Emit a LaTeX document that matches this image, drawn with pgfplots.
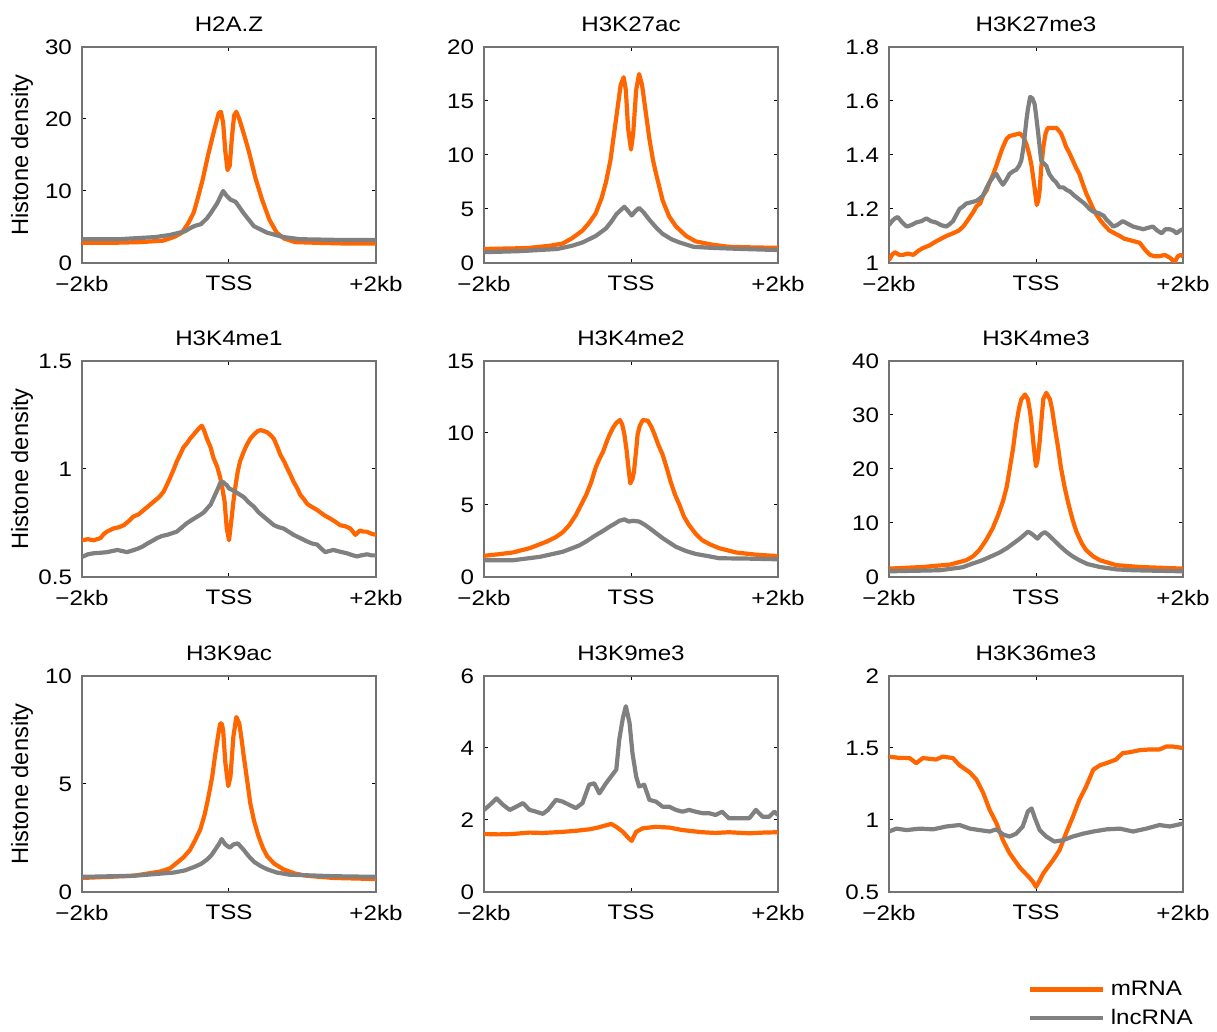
\documentclass[border=0pt]{standalone}
\usepackage{fontspec}
\setmainfont{Liberation Sans}[FakeStretch=1.15]
\newfontfamily\ylfont{Liberation Sans}
\usepackage{pgfplots}
\pgfplotsset{compat=1.18}

\definecolor{mrna}{RGB}{255,102,0}
\definecolor{lnc}{RGB}{128,128,128}
\definecolor{frame}{RGB}{115,115,115}

\pgfplotsset{
  hist/.style={
    scale only axis, width=147pt, height=108pt,
    xmin=-2, xmax=2,
    xtick={-2,0,2}, xticklabels={−2kb,TSS,+2kb},
    tick align=inside, tick pos=both,
    major tick length=2pt,
    axis line style={frame, line width=0.6pt},
    tick style={black, line width=0.5pt},
    tick label style={font=\fontsize{10.5}{12}\selectfont},
    /pgf/number format/assume math mode=true,
    yticklabel style={xshift=-1.5pt},
    xticklabel style={yshift=-3pt},
    title style={font=\fontsize{10.5}{12}\selectfont, at={(axis description cs:0.5,1)}, anchor=base, yshift=1.8pt},
    ylabel style={font=\ylfont\fontsize{11.8}{13}\selectfont, at={(axis description cs:-0.204,0.5)}, anchor=center},
    every axis plot/.append style={line width=2.1pt, line join=round},
  }
}

\begin{document}
\begin{tikzpicture}
\path[use as bounding box] (0pt,0pt) rectangle (608.5pt,516pt);

% row 1
\begin{axis}[hist, at={(41pt,384.5pt)}, ymin=0, ymax=30, ytick={0,10,20,30},
  title={H2A.Z}, ylabel={Histone density}]
\addplot[mrna] coordinates {(-2,2.8)(-1.6,2.8)(-1.2,2.9)(-0.9,3.1)(-0.75,3.6)(-0.64,4.2)(-0.55,5.6)(-0.48,7.0)(-0.43,8.8)(-0.36,11.5)(-0.28,15.2)(-0.2,18.5)(-0.14,20.8)(-0.11,21.0)(-0.08,19.5)(-0.05,15.5)(-0.02,12.9)(0.01,13.5)(0.04,17.5)(0.07,20.5)(0.1,21.0)(0.14,20.0)(0.2,18.0)(0.27,15.5)(0.36,11.8)(0.45,8.8)(0.55,6.0)(0.65,4.2)(0.75,3.4)(0.9,2.9)(1.2,2.8)(1.6,2.7)(2,2.7)};
\addplot[lnc] coordinates {(-2,3.3)(-1.5,3.3)(-1.0,3.6)(-0.8,3.9)(-0.6,4.4)(-0.5,5.0)(-0.45,5.2)(-0.38,5.4)(-0.3,6.2)(-0.25,6.9)(-0.16,8.3)(-0.08,10.0)(-0.03,9.3)(0.02,8.8)(0.09,8.5)(0.2,6.9)(0.34,5.1)(0.52,4.2)(0.74,3.6)(0.97,3.3)(1.5,3.2)(2,3.2)};
\end{axis}

\begin{axis}[hist, at={(242pt,384.5pt)}, ymin=0, ymax=20, ytick={0,5,10,15,20},
  title={H3K27ac}]
\addplot[mrna] coordinates {(-2,1.3)(-1.6,1.35)(-1.38,1.4)(-1.1,1.6)(-0.93,1.8)(-0.8,2.3)(-0.66,3.0)(-0.56,3.8)(-0.48,4.6)(-0.4,6.0)(-0.34,7.5)(-0.28,9.5)(-0.23,12.0)(-0.18,14.5)(-0.14,16.5)(-0.1,17.2)(-0.07,16.0)(-0.04,12.5)(0.0,10.5)(0.03,12.0)(0.07,16.0)(0.11,17.5)(0.15,16.5)(0.2,14.0)(0.25,11.5)(0.3,9.5)(0.34,8.3)(0.43,5.8)(0.52,4.3)(0.61,3.4)(0.75,2.5)(0.88,2.0)(1.1,1.7)(1.33,1.5)(1.6,1.45)(2,1.4)};
\addplot[lnc] coordinates {(-2,1.0)(-1.5,1.1)(-1.0,1.3)(-0.8,1.6)(-0.66,1.9)(-0.48,2.5)(-0.34,3.2)(-0.27,3.8)(-0.2,4.5)(-0.14,4.9)(-0.09,5.2)(-0.05,4.9)(0.01,4.4)(0.06,4.8)(0.11,5.1)(0.17,4.7)(0.25,4.0)(0.34,3.3)(0.43,2.7)(0.55,2.2)(0.66,1.9)(0.85,1.5)(1.1,1.4)(1.5,1.3)(2,1.2)};
\end{axis}

\begin{axis}[hist, at={(444.5pt,384.5pt)}, ymin=1, ymax=1.8, ytick={1,1.2,1.4,1.6,1.8},
  title={H3K27me3}]
\addplot[mrna] coordinates {(-2,1.01)(-1.96,1.03)(-1.92,1.04)(-1.86,1.03)(-1.81,1.03)(-1.74,1.035)(-1.67,1.03)(-1.6,1.045)(-1.54,1.055)(-1.45,1.065)(-1.36,1.08)(-1.29,1.09)(-1.22,1.10)(-1.13,1.11)(-1.05,1.12)(-0.99,1.135)(-0.95,1.15)(-0.9,1.17)(-0.85,1.19)(-0.81,1.21)(-0.76,1.22)(-0.72,1.25)(-0.67,1.27)(-0.63,1.30)(-0.58,1.33)(-0.54,1.36)(-0.49,1.40)(-0.45,1.43)(-0.4,1.46)(-0.36,1.47)(-0.29,1.475)(-0.22,1.48)(-0.17,1.465)(-0.13,1.44)(-0.09,1.40)(-0.06,1.36)(-0.04,1.32)(-0.02,1.28)(0.01,1.215)(0.03,1.23)(0.05,1.27)(0.07,1.35)(0.10,1.43)(0.13,1.48)(0.16,1.50)(0.22,1.50)(0.28,1.50)(0.34,1.48)(0.37,1.46)(0.41,1.43)(0.45,1.41)(0.5,1.38)(0.55,1.35)(0.59,1.33)(0.64,1.29)(0.68,1.26)(0.73,1.23)(0.78,1.20)(0.82,1.18)(0.87,1.16)(0.93,1.14)(1.0,1.12)(1.07,1.11)(1.14,1.10)(1.2,1.09)(1.27,1.085)(1.34,1.08)(1.41,1.075)(1.48,1.05)(1.55,1.03)(1.61,1.025)(1.68,1.025)(1.75,1.03)(1.82,1.02)(1.86,1.01)(1.89,1.005)(1.93,1.025)(1.97,1.03)(2,1.025)};
\addplot[lnc] coordinates {(-2,1.14)(-1.96,1.155)(-1.92,1.165)(-1.88,1.17)(-1.82,1.15)(-1.76,1.135)(-1.7,1.14)(-1.63,1.15)(-1.56,1.155)(-1.49,1.165)(-1.43,1.155)(-1.36,1.15)(-1.29,1.14)(-1.22,1.135)(-1.17,1.145)(-1.13,1.155)(-1.08,1.18)(-1.04,1.20)(-0.99,1.21)(-0.95,1.22)(-0.88,1.225)(-0.81,1.23)(-0.76,1.24)(-0.72,1.25)(-0.67,1.28)(-0.63,1.30)(-0.58,1.32)(-0.54,1.33)(-0.5,1.31)(-0.45,1.29)(-0.4,1.31)(-0.36,1.33)(-0.31,1.34)(-0.27,1.345)(-0.23,1.36)(-0.2,1.38)(-0.17,1.43)(-0.15,1.48)(-0.13,1.53)(-0.11,1.57)(-0.08,1.615)(-0.05,1.61)(-0.02,1.59)(0.0,1.55)(0.03,1.48)(0.05,1.43)(0.07,1.38)(0.1,1.37)(0.14,1.36)(0.18,1.33)(0.23,1.31)(0.27,1.30)(0.32,1.28)(0.37,1.28)(0.42,1.27)(0.46,1.265)(0.52,1.25)(0.59,1.235)(0.66,1.22)(0.73,1.20)(0.78,1.19)(0.85,1.185)(0.92,1.175)(0.96,1.16)(1.0,1.15)(1.05,1.135)(1.1,1.14)(1.18,1.155)(1.25,1.145)(1.32,1.135)(1.39,1.13)(1.46,1.125)(1.52,1.13)(1.59,1.135)(1.65,1.12)(1.71,1.11)(1.76,1.125)(1.82,1.125)(1.87,1.12)(1.91,1.11)(1.96,1.12)(2,1.125)};
\end{axis}

% row 2
\begin{axis}[hist, at={(41pt,227.5pt)}, ymin=0.5, ymax=1.5, ytick={0.5,1,1.5},
  title={H3K4me1}, ylabel={Histone density}]
\addplot[mrna] coordinates {(-2,0.67)(-1.92,0.675)(-1.84,0.67)(-1.75,0.68)(-1.7,0.70)(-1.66,0.71)(-1.57,0.725)(-1.5,0.73)(-1.43,0.74)(-1.36,0.76)(-1.3,0.78)(-1.23,0.79)(-1.16,0.81)(-1.09,0.83)(-1.02,0.85)(-0.95,0.87)(-0.89,0.895)(-0.84,0.93)(-0.8,0.96)(-0.75,1.0)(-0.71,1.035)(-0.66,1.07)(-0.62,1.10)(-0.57,1.12)(-0.53,1.14)(-0.48,1.16)(-0.43,1.18)(-0.39,1.195)(-0.37,1.20)(-0.34,1.18)(-0.3,1.14)(-0.25,1.10)(-0.21,1.05)(-0.16,1.01)(-0.12,0.96)(-0.09,0.91)(-0.06,0.85)(-0.03,0.725)(0.0,0.67)(0.03,0.755)(0.06,0.85)(0.09,0.925)(0.12,0.99)(0.15,1.035)(0.2,1.08)(0.24,1.11)(0.29,1.14)(0.34,1.16)(0.39,1.175)(0.43,1.18)(0.48,1.175)(0.52,1.17)(0.57,1.155)(0.61,1.14)(0.66,1.10)(0.7,1.065)(0.75,1.035)(0.79,1.005)(0.84,0.97)(0.88,0.94)(0.93,0.91)(0.97,0.88)(1.02,0.86)(1.06,0.84)(1.1,0.83)(1.15,0.82)(1.2,0.81)(1.24,0.80)(1.3,0.785)(1.38,0.77)(1.45,0.755)(1.51,0.74)(1.58,0.735)(1.65,0.725)(1.72,0.695)(1.78,0.715)(1.83,0.71)(1.87,0.71)(1.94,0.70)(2,0.695)};
\addplot[lnc] coordinates {(-2,0.593)(-1.92,0.605)(-1.84,0.61)(-1.75,0.612)(-1.66,0.615)(-1.59,0.62)(-1.52,0.625)(-1.45,0.62)(-1.39,0.615)(-1.32,0.622)(-1.25,0.63)(-1.18,0.64)(-1.11,0.655)(-1.04,0.668)(-0.98,0.68)(-0.91,0.69)(-0.84,0.695)(-0.77,0.703)(-0.71,0.71)(-0.64,0.73)(-0.57,0.75)(-0.5,0.765)(-0.43,0.78)(-0.38,0.79)(-0.34,0.80)(-0.29,0.82)(-0.25,0.835)(-0.19,0.88)(-0.15,0.91)(-0.12,0.935)(-0.08,0.94)(-0.05,0.93)(-0.03,0.925)(0.0,0.91)(0.06,0.90)(0.13,0.885)(0.2,0.87)(0.27,0.845)(0.34,0.825)(0.4,0.80)(0.47,0.78)(0.54,0.76)(0.61,0.74)(0.68,0.73)(0.74,0.725)(0.81,0.71)(0.88,0.695)(0.97,0.68)(1.06,0.665)(1.13,0.655)(1.2,0.65)(1.26,0.63)(1.31,0.615)(1.36,0.62)(1.42,0.625)(1.5,0.618)(1.6,0.61)(1.67,0.602)(1.74,0.595)(1.8,0.6)(1.88,0.605)(1.94,0.6)(2,0.6)};
\end{axis}

\begin{axis}[hist, at={(242pt,227.5pt)}, ymin=0, ymax=15, ytick={0,5,10,15},
  title={H3K4me2}]
\addplot[mrna] coordinates {(-2,1.47)(-1.8,1.58)(-1.61,1.7)(-1.38,2.0)(-1.15,2.45)(-1.03,2.75)(-0.93,3.1)(-0.84,3.6)(-0.75,4.3)(-0.68,5.0)(-0.61,5.7)(-0.54,6.6)(-0.48,7.6)(-0.43,8.2)(-0.38,8.7)(-0.33,9.4)(-0.29,9.9)(-0.24,10.4)(-0.2,10.7)(-0.15,10.9)(-0.12,10.6)(-0.09,9.9)(-0.06,8.8)(-0.04,7.8)(-0.01,6.5)(0.02,6.8)(0.04,7.3)(0.07,8.8)(0.09,9.9)(0.12,10.5)(0.16,10.9)(0.23,10.85)(0.28,10.4)(0.32,9.9)(0.37,9.2)(0.43,8.5)(0.49,7.5)(0.54,6.6)(0.6,5.7)(0.66,5.0)(0.72,4.2)(0.79,3.6)(0.88,3.0)(0.97,2.55)(1.08,2.25)(1.2,2.0)(1.43,1.7)(1.7,1.55)(2,1.45)};
\addplot[lnc] coordinates {(-2,1.16)(-1.61,1.16)(-1.24,1.4)(-0.93,1.75)(-0.8,2.0)(-0.7,2.2)(-0.6,2.5)(-0.48,2.9)(-0.38,3.2)(-0.29,3.5)(-0.22,3.7)(-0.16,3.9)(-0.09,4.0)(-0.03,3.85)(0.03,3.9)(0.11,3.85)(0.18,3.65)(0.25,3.4)(0.34,3.05)(0.43,2.7)(0.52,2.4)(0.61,2.1)(0.75,1.8)(0.88,1.6)(1.05,1.45)(1.2,1.3)(1.56,1.28)(2,1.23)};
\end{axis}

\begin{axis}[hist, at={(444.5pt,227.5pt)}, ymin=0, ymax=40, ytick={0,10,20,30,40},
  title={H3K4me3}]
\addplot[mrna] coordinates {(-2,1.55)(-1.54,1.85)(-1.17,2.3)(-0.95,3.1)(-0.86,3.8)(-0.77,5.0)(-0.68,6.8)(-0.59,9.0)(-0.52,11.3)(-0.45,14.0)(-0.4,16.6)(-0.36,19.8)(-0.31,24.0)(-0.27,28.2)(-0.23,31.3)(-0.2,32.9)(-0.15,33.8)(-0.11,32.9)(-0.08,30.5)(-0.06,28.2)(-0.03,24.0)(0.0,20.5)(0.02,21.5)(0.05,25.1)(0.08,30.0)(0.1,33.0)(0.14,34.1)(0.19,32.9)(0.22,31.0)(0.25,28.2)(0.3,24.0)(0.34,20.2)(0.39,16.6)(0.44,13.6)(0.5,10.5)(0.55,8.4)(0.62,6.3)(0.68,5.0)(0.78,3.8)(0.87,3.1)(1.09,2.2)(1.41,1.85)(2,1.55)};
\addplot[lnc] coordinates {(-2,1.05)(-1.31,1.25)(-1.0,1.8)(-0.86,2.5)(-0.73,3.1)(-0.63,3.7)(-0.5,4.5)(-0.4,5.3)(-0.3,6.3)(-0.22,7.1)(-0.16,7.8)(-0.11,8.4)(-0.07,8.1)(-0.04,7.8)(0.02,7.1)(0.07,7.9)(0.12,8.3)(0.17,7.8)(0.23,7.0)(0.32,5.8)(0.41,4.7)(0.5,3.8)(0.59,3.1)(0.7,2.4)(0.87,1.85)(1.1,1.4)(1.32,1.25)(2,1.05)};
\end{axis}

% row 3
\begin{axis}[hist, at={(41pt,70pt)}, ymin=0, ymax=10, ytick={0,5,10},
  title={H3K9ac}, ylabel={Histone density}]
\addplot[mrna] coordinates {(-2,0.65)(-1.3,0.75)(-0.93,0.95)(-0.8,1.1)(-0.71,1.35)(-0.62,1.6)(-0.53,1.95)(-0.46,2.4)(-0.39,2.9)(-0.33,3.6)(-0.28,4.4)(-0.23,5.3)(-0.19,6.3)(-0.15,7.2)(-0.12,7.8)(-0.1,7.8)(-0.08,7.5)(-0.05,6.0)(-0.01,4.9)(0.02,5.35)(0.06,7.2)(0.1,8.1)(0.14,7.8)(0.17,7.1)(0.2,6.3)(0.25,5.1)(0.29,4.1)(0.34,3.3)(0.4,2.6)(0.46,2.05)(0.52,1.65)(0.62,1.3)(0.74,1.05)(0.9,0.85)(1.06,0.75)(1.42,0.65)(2,0.6)};
\addplot[lnc] coordinates {(-2,0.7)(-1.3,0.75)(-0.75,0.9)(-0.6,1.0)(-0.48,1.15)(-0.38,1.3)(-0.3,1.5)(-0.24,1.7)(-0.19,1.95)(-0.14,2.2)(-0.1,2.45)(-0.05,2.2)(0.01,2.05)(0.06,2.2)(0.12,2.25)(0.16,2.1)(0.2,1.95)(0.27,1.65)(0.34,1.4)(0.43,1.2)(0.52,1.05)(0.65,0.9)(0.83,0.8)(1.42,0.73)(2,0.7)};
\end{axis}

\begin{axis}[hist, at={(242pt,70pt)}, ymin=0, ymax=6, ytick={0,2,4,6},
  title={H3K9me3}]
\addplot[mrna] coordinates {(-2,1.61)(-1.8,1.6)(-1.61,1.61)(-1.5,1.63)(-1.38,1.65)(-1.2,1.64)(-0.93,1.67)(-0.75,1.7)(-0.57,1.74)(-0.45,1.79)(-0.38,1.83)(-0.27,1.89)(-0.2,1.81)(-0.11,1.67)(-0.03,1.49)(0.01,1.42)(0.04,1.55)(0.07,1.67)(0.16,1.77)(0.34,1.81)(0.52,1.79)(0.7,1.72)(0.97,1.66)(1.15,1.64)(1.33,1.66)(1.61,1.63)(1.8,1.65)(2,1.66)};
\addplot[lnc] coordinates {(-2,2.28)(-1.92,2.42)(-1.83,2.6)(-1.74,2.42)(-1.65,2.28)(-1.56,2.37)(-1.47,2.47)(-1.38,2.28)(-1.29,2.23)(-1.2,2.17)(-1.13,2.28)(-1.02,2.56)(-0.93,2.51)(-0.84,2.42)(-0.75,2.33)(-0.66,2.47)(-0.57,2.98)(-0.5,3.02)(-0.43,2.74)(-0.34,3.02)(-0.27,3.21)(-0.2,3.40)(-0.16,4.23)(-0.11,4.84)(-0.07,5.16)(-0.02,4.70)(0.02,3.86)(0.07,3.21)(0.11,2.93)(0.18,2.98)(0.25,2.56)(0.34,2.51)(0.43,2.37)(0.52,2.37)(0.61,2.28)(0.7,2.23)(0.79,2.28)(0.88,2.23)(0.97,2.19)(1.06,2.19)(1.15,2.14)(1.24,2.23)(1.33,2.05)(1.47,2.05)(1.61,2.05)(1.7,2.28)(1.79,2.09)(1.88,2.09)(1.95,2.23)(2,2.14)};
\end{axis}

\begin{axis}[hist, at={(444.5pt,70pt)}, ymin=0.5, ymax=2, ytick={0.5,1,1.5,2},
  title={H3K36me3},
  legend style={at={(0.47,-0.40)}, anchor=north west, draw=none, fill=none,
    font=\fontsize{10.5}{12}\selectfont, inner sep=0pt, row sep=3.5pt, column sep=2pt,
    nodes={inner sep=1pt}},
  legend cell align=left,
  legend image code/.code={\draw[#1] (0pt,0pt) -- (36.5pt,0pt);}]
\addplot[mrna] coordinates {(-2,1.44)(-1.92,1.435)(-1.85,1.43)(-1.72,1.43)(-1.63,1.395)(-1.54,1.43)(-1.45,1.425)(-1.36,1.42)(-1.27,1.44)(-1.13,1.43)(-1.04,1.38)(-0.9,1.33)(-0.81,1.28)(-0.72,1.19)(-0.63,1.07)(-0.54,0.98)(-0.45,0.86)(-0.36,0.77)(-0.22,0.67)(-0.09,0.60)(-0.04,0.57)(0.0,0.535)(0.05,0.58)(0.1,0.63)(0.23,0.72)(0.32,0.79)(0.41,0.91)(0.5,1.02)(0.59,1.14)(0.68,1.23)(0.78,1.35)(0.87,1.38)(0.96,1.395)(1.09,1.42)(1.18,1.465)(1.27,1.47)(1.41,1.485)(1.55,1.49)(1.68,1.49)(1.77,1.51)(1.86,1.51)(2,1.5)};
\addplot[lnc] coordinates {(-2,0.92)(-1.9,0.94)(-1.76,0.93)(-1.58,0.94)(-1.4,0.935)(-1.22,0.955)(-1.04,0.965)(-0.9,0.94)(-0.77,0.93)(-0.63,0.92)(-0.54,0.935)(-0.45,0.90)(-0.36,0.885)(-0.27,0.905)(-0.18,0.955)(-0.11,1.06)(-0.06,1.08)(-0.02,1.02)(0.05,0.93)(0.14,0.885)(0.25,0.85)(0.37,0.86)(0.5,0.885)(0.64,0.905)(0.78,0.92)(0.96,0.935)(1.14,0.94)(1.32,0.92)(1.5,0.94)(1.68,0.965)(1.82,0.955)(1.91,0.965)(2,0.975)};
\legend{mRNA,lncRNA}
\end{axis}
\end{tikzpicture}
\end{document}
